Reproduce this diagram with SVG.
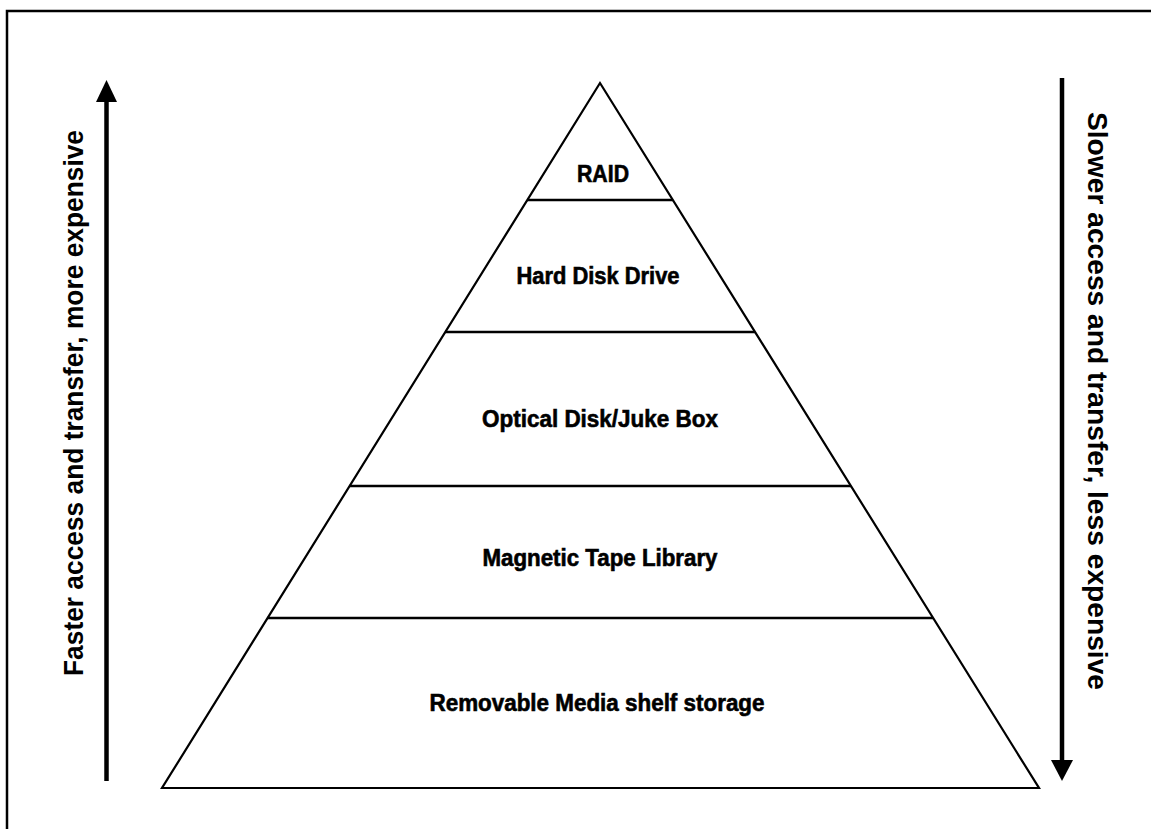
<svg xmlns="http://www.w3.org/2000/svg" width="1151" height="829" viewBox="0 0 1151 829">
<style>
.lbl{font-family:"Liberation Sans",Arial,sans-serif;font-weight:bold;font-size:23px;fill:#000;text-anchor:middle;stroke:#000;stroke-width:0.6}
.side{font-family:"Liberation Sans",Arial,sans-serif;font-weight:bold;font-size:28px;fill:#000;text-anchor:middle}
.tier{stroke:#000;stroke-width:2.5;fill:none}
.arr{stroke:#000;stroke-width:4.5;fill:none}
</style>
<rect x="0" y="0" width="1151" height="829" fill="#fff"/>
<rect x="7" y="11" width="1170" height="840" fill="none" stroke="#000" stroke-width="2.5"/>
<g id="pyramid">
<polygon points="600,83 162,788 1039,788" fill="#fff" stroke="#000" stroke-width="2.2"/>
</g>
<g id="tier-raid">
<line class="tier" x1="527" y1="200" x2="673" y2="200"/>
<text class="lbl" x="603" y="182" textLength="52" lengthAdjust="spacingAndGlyphs">RAID</text>
</g>
<g id="tier-hdd">
<line class="tier" x1="445" y1="332" x2="755" y2="332"/>
<text class="lbl" x="598" y="284" textLength="163" lengthAdjust="spacingAndGlyphs">Hard Disk Drive</text>
</g>
<g id="tier-optical">
<line class="tier" x1="349.5" y1="486" x2="851" y2="486"/>
<text class="lbl" x="600" y="427" textLength="236" lengthAdjust="spacingAndGlyphs">Optical Disk/Juke Box</text>
</g>
<g id="tier-tape">
<line class="tier" x1="267.5" y1="618" x2="933" y2="618"/>
<text class="lbl" x="600" y="566" textLength="235" lengthAdjust="spacingAndGlyphs">Magnetic Tape Library</text>
</g>
<g id="tier-removable">
<text class="lbl" x="597" y="711" textLength="335" lengthAdjust="spacingAndGlyphs">Removable Media shelf storage</text>
</g>
<g id="connectors">
<line class="arr" x1="106.5" y1="781" x2="106.5" y2="100"/>
<polygon points="96,102 117,102 106.5,80" fill="#000"/>
<line class="arr" x1="1062" y1="78" x2="1062" y2="762"/>
<polygon points="1051,760 1073,760 1062,781" fill="#000"/>
</g>
<g id="label-left">
<text class="side" transform="translate(83,403) rotate(-90)" textLength="546" lengthAdjust="spacingAndGlyphs">Faster access and transfer, more expensive</text>
</g>
<g id="label-right">
<text class="side" transform="translate(1088,401) rotate(90)" textLength="578" lengthAdjust="spacingAndGlyphs">Slower access and transfer, less expensive</text>
</g>
</svg>
